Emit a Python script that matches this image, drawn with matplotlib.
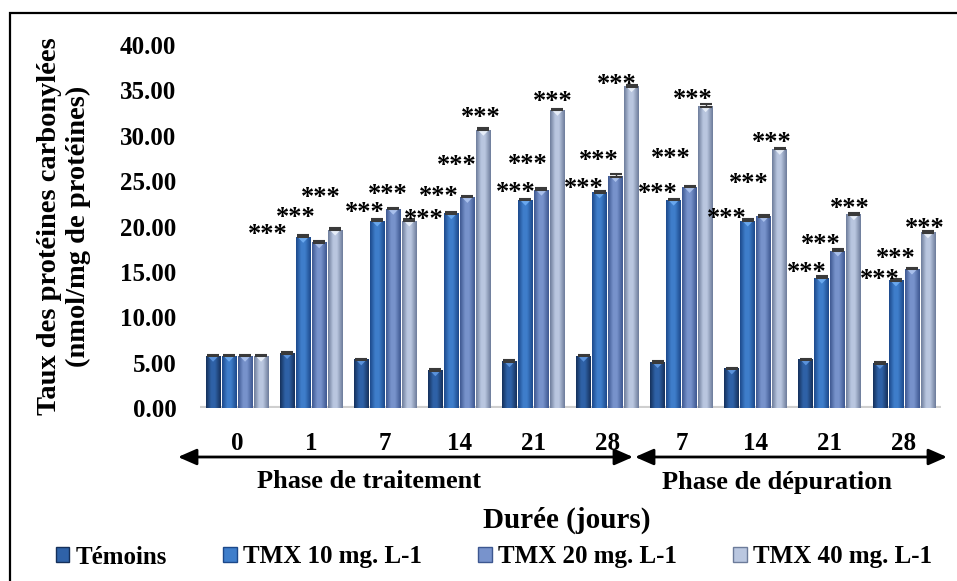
import numpy as np
import matplotlib
matplotlib.use("Agg")
import matplotlib.pyplot as plt
from matplotlib.colors import LinearSegmentedColormap
from matplotlib.patches import Polygon, Rectangle, Patch

plt.rcParams["font.family"] = ["Liberation Serif", "DejaVu Serif"]
plt.rcParams["font.weight"] = "bold"

# durations (days) : 6 treatment samples then 4 depuration samples
days = ["0", "1", "7", "14", "21", "28", "7", "14", "21", "28"]
series = ["Témoins", "TMX 10 mg. L-1", "TMX 20 mg. L-1", "TMX 40 mg. L-1"]

# carbonylated proteins (nmol/mg de protéines)
temoins = [5.7, 6.0, 5.3, 4.1, 5.1, 5.7, 5.0, 4.3, 5.3, 4.9]
tmx10 = [5.7, 18.8, 20.6, 21.4, 22.9, 23.7, 22.9, 20.6, 14.3, 14.0]
tmx20 = [5.7, 18.2, 21.9, 23.2, 24.0, 25.5, 24.3, 21.1, 17.3, 15.3]
tmx40 = [5.7, 19.6, 20.6, 30.6, 32.8, 35.4, 33.2, 28.5, 21.3, 19.3]

# standard errors
err_temoins = [0.15, 0.2, 0.15, 0.15, 0.15, 0.15, 0.15, 0.15, 0.15, 0.2]
err_tmx10 = [0.15, 0.25, 0.2, 0.15, 0.15, 0.2, 0.15, 0.2, 0.3, 0.2]
err_tmx20 = [0.15, 0.2, 0.15, 0.15, 0.25, 0.25, 0.2, 0.2, 0.2, 0.15]
err_tmx40 = [0.15, 0.25, 0.2, 0.3, 0.2, 0.15, 0.25, 0.2, 0.15, 0.2]

# significance vs témoins
sig_tmx10 = ["", "***", "***", "***", "***", "***", "***", "***", "***", "***"]
sig_tmx20 = ["", "***", "***", "***", "***", "***", "***", "***", "***", "***"]
sig_tmx40 = ["", "***", "***", "***", "***", "***", "***", "***", "***", "***"]

values = [temoins, tmx10, tmx20, tmx40]
errors = [err_temoins, err_tmx10, err_tmx20, err_tmx40]
signif = [None, sig_tmx10, sig_tmx20, sig_tmx40]

# bar shading: (edge, middle, top highlight)
shades = [("#15305a", "#2f62a8", "#5b93dc"),
          ("#1c488a", "#3f7ecb", "#6aa8ee"),
          ("#3d5790", "#7893cc", "#a9c0ec"),
          ("#6c7b9a", "#bac7e0", "#e6edf8")]

# label nudges (pixels) for the *** marks, per group then per TMX series
star_nudge = [None,
              [(-35, 9), (-23, 32), (-14, 39)],
              [(-12, 15), (-5, 21), (15, 8)],
              [(-13, 24), (-11, 38), (-3, 19)],
              [(-10, 14), (-14, 32), (-5, 15)],
              [(-16, 11), (-17, 23), (-15, 9)],
              [(-16, 13), (-19, 35), (-13, 14)],
              [(-21, 9), (-15, 40), (-8, 13)],
              [(-15, 12), (-17, 13), (-4, 13)],
              [(-16, 8), (-16, 17), (-3, 11)]]

fig = plt.figure(figsize=(9.57, 5.81), dpi=100)
ax = fig.add_axes([200 / 957, 173 / 581, 741 / 957, 363 / 581])

x = np.arange(len(days))
offsets = [-0.324, -0.108, 0.108, 0.324]
width = 0.2
grad = np.linspace(0, 1, 64).reshape(1, -1)

for s in range(4):
    edge, mid, tip = shades[s]
    cmap = LinearSegmentedColormap.from_list(
        "bar%d" % s, [(0, edge), (0.35, mid), (0.6, mid), (1, edge)])
    bars = ax.bar(x + offsets[s], values[s], width, color=mid, zorder=2)
    for r in bars:
        x0, w, h = r.get_x(), r.get_width(), r.get_height()
        ax.imshow(grad, cmap=cmap, extent=(x0, x0 + w, 0, h), aspect="auto",
                  interpolation="bicubic", zorder=2.1)
        ax.add_patch(Polygon([(x0 + 0.15 * w, h), (x0 + 0.85 * w, h),
                              (x0 + 0.5 * w, h - 0.6)], closed=True,
                             facecolor=tip, edgecolor="none", zorder=2.2))
    ax.errorbar(x + offsets[s], values[s],
                yerr=[np.zeros(len(days)), errors[s]], fmt="none",
                ecolor="#3a3a3a", elinewidth=1, capsize=4, capthick=1.5,
                zorder=3)
    if signif[s] is not None:
        for g, lab in enumerate(signif[s]):
            if not lab:
                continue
            dx, dy = star_nudge[g][s - 1]
            ax.annotate(lab, (x[g] + offsets[s], values[s][g]),
                        xytext=(dx, dy - 13), textcoords="offset pixels",
                        ha="center", va="baseline", fontsize=19,
                        fontweight="bold", zorder=4)

ax.axhline(0, color="#cfcfcf", lw=3, zorder=1)
ax.set_xlim(-0.5, 9.5)
ax.set_ylim(0, 40)
ax.set_yticks(np.arange(0, 41, 5))
ax.set_yticklabels(["%.2f" % v for v in np.arange(0, 41, 5)], fontsize=18)
ax.set_xticks(x)
ax.set_xticklabels(days, fontsize=18)
ax.tick_params(axis="y", length=0, pad=17)
ax.tick_params(axis="x", length=0, pad=17)
for sp in ax.spines.values():
    sp.set_visible(False)

fig.text(64 / 957, 1 - 226 / 581,
         "Taux des protéines carbonylées\n(nmol/mg de protéines)",
         rotation=90, ha="center", va="center", fontsize=20.5,
         linespacing=1.2, multialignment="center")

# phase arrows under the day labels
arrow = dict(arrowstyle="<|-|>,head_length=0.8,head_width=0.35",
             color="black", lw=2, shrinkA=0, shrinkB=0, mutation_scale=14)
ax.annotate("", xy=(633, 124), xytext=(178, 124), xycoords="figure pixels",
            arrowprops=arrow)
ax.annotate("", xy=(947, 124), xytext=(635, 124), xycoords="figure pixels",
            arrowprops=arrow)

fig.text(369 / 957, 1 - 482 / 581, "Phase de traitement", ha="center",
         va="center", fontsize=19)
fig.text(777 / 957, 1 - 483 / 581, "Phase de dépuration", ha="center",
         va="center", fontsize=19)
fig.text(567 / 957, 1 - 520 / 581, "Durée (jours)", ha="center",
         va="center", fontsize=21)

handles = [Patch(facecolor=sh[1], edgecolor=sh[0], lw=1) for sh in shades]
fig.legend(handles, series, loc="center", bbox_to_anchor=(494 / 957, 24 / 581),
           ncol=4, frameon=False, fontsize=18, handlelength=0.55,
           handleheight=0.55, handletextpad=0.25, columnspacing=2.25)

fig.add_artist(Rectangle((10 / 957, -0.05), 1.2, 0.05 + 568 / 581,
                         transform=fig.transFigure, fill=False,
                         ec="black", lw=1.6))

fig.savefig("out.png", dpi=100)
